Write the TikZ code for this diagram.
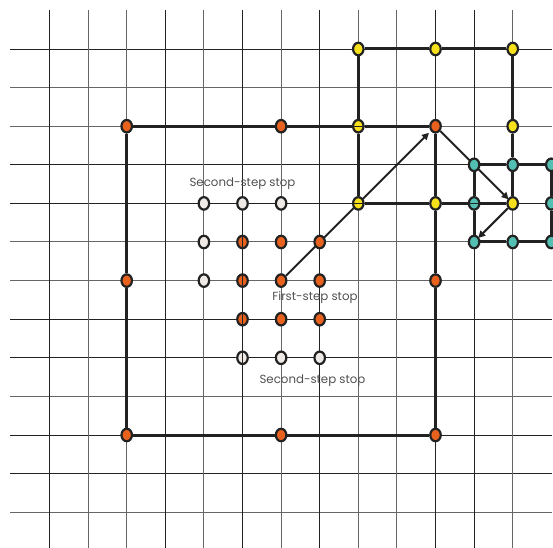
\documentclass[tikz,border=0pt]{standalone}
\usepackage{fontspec}
\setmainfont{Poppins}
\usetikzlibrary{arrows.meta,backgrounds,shapes.geometric}
\definecolor{ink}{HTML}{222222}
\definecolor{griddark}{HTML}{222222}
\definecolor{gridgray}{HTML}{666666}
\definecolor{stoporange}{HTML}{E8621E}
\definecolor{stopyellow}{HTML}{F7E11B}
\definecolor{stopteal}{HTML}{52BFB2}
\definecolor{stopwhite}{HTML}{EFEAE5}
\definecolor{labelgray}{HTML}{505050}
\tikzset{
  stopnode/.style={ellipse, draw=ink, line width=2.2pt, minimum width=10.5pt, minimum height=12.5pt, inner sep=0pt},
  ostop/.style={stopnode, fill=stoporange},
  ystop/.style={stopnode, fill=stopyellow},
  tstop/.style={stopnode, fill=stopteal},
  wstop/.style={stopnode, fill=stopwhite},
  gline/.style={draw=griddark, line width=0.9pt},
  gline2/.style={draw=gridgray, line width=1pt},
  heavy/.style={draw=ink, line width=3pt},
  mover/.style={draw=ink, line width=2pt, -{Triangle[length=7pt,width=7pt]}},
  steplabel/.style={text=labelgray, font=\fontsize{11.8}{14}\selectfont, anchor=base, inner sep=0pt},
  through/.style={draw=griddark, line width=1.2pt}
}
\begin{document}
\begin{tikzpicture}[x=38.6pt,y=-38.6pt]
\useasboundingbox (-1.2824,-1.2694) rectangle (13.044,12.927);
% stops
\foreach \i/\j in {2/2,6/2,10/2,2/6,10/6,2/10,6/10,10/10,5/5,6/5,7/5,5/6,6/6,7/6,5/7,6/7,7/7}
  \node[ostop] (o\i-\j) at (\i,\j) {};
\foreach \i/\j in {4/4,5/4,6/4,4/5,4/6,5/8,6/8,7/8}
  \node[wstop] (w\i-\j) at (\i,\j) {};
\foreach \i/\j in {8/0,10/0,12/0,8/2,12/2,8/4,10/4,12/4}
  \node[ystop] (y\i-\j) at (\i,\j) {};
\foreach \i/\j in {11/3,12/3,13/3,11/4,13/4,11/5,12/5,13/5}
  \node[tstop] (t\i-\j) at (\i,\j) {};
% labels
\node[steplabel] (lab1) at (5.0,3.575) {Second-step stop};
\node[steplabel] (lab2) at (6.878,6.503) {First-step stop};
\node[steplabel] (lab3) at (6.813,8.653) {Second-step stop};
\begin{scope}[on background layer]
  % grid
  \foreach \r in {0,3,4,7,8,10,11}
    \draw[gline] (-1.0233,\r) -- (13.02,\r);
  \foreach \r in {1,2,5,6,9,12}
    \draw[gline2] (-1.0233,\r) -- (13.02,\r);
  \foreach \c in {0,3,7,10,11}
    \draw[gline] (\c,-1.0104) -- (\c,12.93);
  \foreach \c in {1,2,4,6,8,9,12}
    \draw[gline2] (\c,-1.0104) -- (\c,12.93);
  \draw[draw=griddark, line width=1.6pt] (5,-1.0104) -- (5,12.93);
  % routes
  \draw[heavy] (o2-2) -- (o6-2) -- (y8-2) -- (o10-2) -- (y10-4) -- (o10-6) -- (o10-10) -- (o6-10) -- (o2-10) -- (o2-6) -- (o2-2);
  \draw[heavy] (y8-0) -- (y10-0) -- (y12-0) -- (y12-2) -- (t12-3) -- (y12-4) -- (y10-4) -- (y8-4) -- (y8-2) -- (y8-0);
  \draw[heavy] (t11-3) -- (t12-3) -- (t13-3) -- (t13-4) -- (t13-5) -- (t12-5) -- (t11-5) -- (t11-4) -- (t11-3);
  % moves
  \draw[mover, shorten >=2.5pt] (o6-6) -- (o10-2);
  \draw[mover, shorten >=-1pt] (o10-2) -- (y12-4);
  \draw[mover, shorten >=-1pt] (y12-4) -- (t11-5);
\end{scope}
% grid lines showing through some stops
\foreach \n in {o5-5,o5-6,o5-7,w5-8}
  \draw[through] (\n.north) -- (\n.south);
\foreach \n in {y8-2,y8-4,t11-4}
  \draw[through, line width=0.9pt] (\n.west) -- (\n.east);
\end{tikzpicture}
\end{document}
